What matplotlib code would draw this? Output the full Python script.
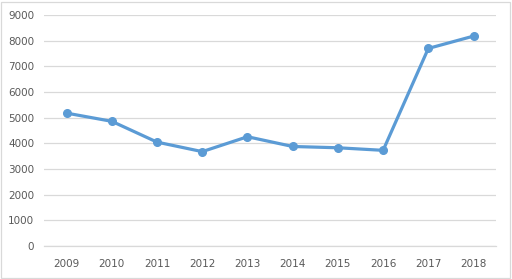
import matplotlib
matplotlib.use("Agg")
import matplotlib.pyplot as plt
from matplotlib.patches import Rectangle

years = ["2009", "2010", "2011", "2012", "2013", "2014", "2015", "2016", "2017", "2018"]
values = [5180, 4860, 4050, 3680, 4260, 3880, 3830, 3730, 7700, 8180]

fig = plt.figure(figsize=(5.12, 2.79), dpi=100)
ax = fig.add_axes([0.086, 0.118, 0.883, 0.828])

x = range(len(years))
ax.plot(x, values, color="#5B9BD5", linewidth=2.3, marker="o", markersize=5.5, zorder=3)

ax.set_ylim(0, 9000)
ax.set_yticks(range(0, 9001, 1000))
ax.set_xlim(-0.5, len(years) - 0.5)
ax.set_xticks(list(x))
ax.set_xticklabels(years)
ax.grid(axis="y", color="#D9D9D9", linewidth=0.9)
ax.set_axisbelow(True)

for s in ["top", "right", "left"]:
    ax.spines[s].set_visible(False)
ax.spines["bottom"].set_color("#D9D9D9")
ax.spines["bottom"].set_linewidth(0.9)
ax.tick_params(length=0, labelsize=7.5, labelcolor="#595959")
ax.tick_params(axis="x", pad=9)
ax.tick_params(axis="y", pad=7)

# light border around the whole chart
fig.patches.append(Rectangle((0.002, 0.004), 0.995, 0.99, transform=fig.transFigure,
                             fill=False, edgecolor="#D9D9D9", linewidth=0.9))

fig.savefig("out.png", dpi=100)
